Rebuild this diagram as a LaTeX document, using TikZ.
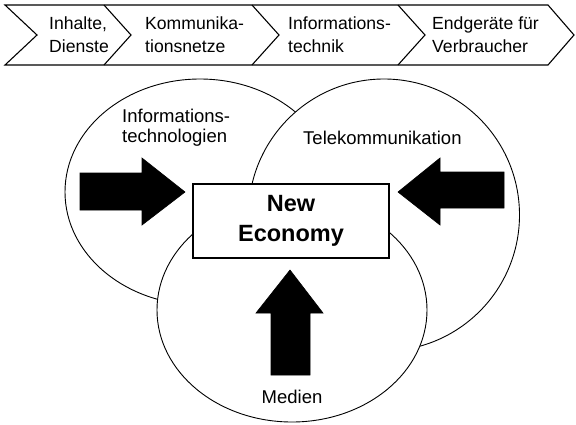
\documentclass[tikz,border=0pt]{standalone}
\usepackage{fontspec}
\setmainfont{Liberation Sans}
\begin{document}
\begin{tikzpicture}[x=1pt,y=-1pt,
        chevtext/.style={font=\fontsize{17.6}{23}\selectfont,align=left,inner sep=0pt,anchor=west},
        circlabel/.style={font=\fontsize{18.5}{20}\selectfont,align=left,inner sep=0pt},
        ring/.style={draw,fill=white,line width=0.9pt},
        bigarrow/.style={fill=black,draw=black,line width=0.6pt,line join=miter}]
        \useasboundingbox (0,0) rectangle (576,424);
        \draw[line width=1.1pt,line join=miter] (5,5) -- (548,5) -- (574,35) -- (548,65) -- (5,65) -- (37,35) -- cycle;
        \foreach \c in {104,252,398}
            \draw[line width=1.1pt,line join=miter] (\c,5) -- (\c+27,35) -- (\c,65);
        \node[chevtext] (inhalte) at (49,35) {Inhalte,\\Dienste};
        \node[chevtext] (netze) at (145,35) {Kommunika-\\tionsnetze};
        \node[chevtext] (technik) at (288,35) {Informations-\\technik};
        \node[chevtext] (endgeraete) at (432,35) {Endgeräte für\\Verbraucher};
        \draw[ring] (200,192) ellipse [x radius=135,y radius=113];
        \draw[ring] (384,215) ellipse [x radius=135.5,y radius=136];
        \draw[ring] (292,310) ellipse [x radius=135,y radius=112];
        \node[draw,fill=white,line width=1.1pt,minimum width=196pt,minimum height=74pt,
            font=\bfseries\fontsize{23.5}{30}\selectfont,align=center] (economy) at (291,221) {New\\Economy};
        \draw[bigarrow] (80,173) -- (142,173) -- (142,158) -- (185,192) -- (142,225) -- (142,210) -- (80,210) -- cycle;
        \draw[bigarrow] (504,172) -- (440,172) -- (440,158) -- (398,192) -- (440,225) -- (440,208) -- (504,208) -- cycle;
        \draw[bigarrow] (271,375) -- (271,313) -- (256,313) -- (290,270) -- (323,313) -- (310,313) -- (310,375) -- cycle;
        \node[circlabel,anchor=west] (it) at (122,128) {Informations-\\technologien};
        \node[circlabel,anchor=west] (tk) at (303,138) {Telekommunikation};
        \node[circlabel] (medien) at (292,397) {Medien};
    \end{tikzpicture}
\end{document}
